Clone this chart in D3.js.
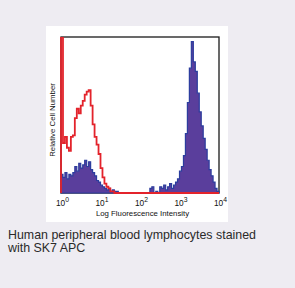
<!DOCTYPE html>
<html>
<head>
<meta charset="utf-8">
<script src="https://cdn.jsdelivr.net/npm/d3@7"></script>
<style>
body{margin:0;background:#eeecf2;}
svg{display:block;}
</style>
</head>
<body>
<script>
// histogram channels, log10 bin width 0.05 starting at 10^0
var binStep = 0.05;
var decades = [1, 10, 100, 1000, 10000];
var tickExp = ["0", "1", "2", "3", "4"];
var isotype = [100, 32, 36, 29, 27, 36, 37, 48, 54, 51, 56, 59, 63, 65, 66, 56,
	44, 36, 31, 25, 16, 10, 6, 4, 3, 1, 1, 0, 0, 0, 0, 0,
	0, 0, 0, 0, 0, 0, 0, 0, 0, 0, 0, 0, 0, 0, 0, 0,
	0, 0, 0, 0, 0, 0, 0, 0, 0, 0, 0, 0, 0, 0, 0, 0,
	0, 0, 0, 0, 0, 0, 0, 0, 0, 0, 0, 0, 0, 0, 0, 0];
var stained = [12, 10, 13, 9, 12, 11, 13, 17, 14, 19, 16, 18, 21, 17, 20, 15,
	13, 11, 8, 7, 5, 4, 3, 2, 3, 1, 2, 1, 1, 0, 0, 0,
	0, 0, 0, 0, 0, 0, 0, 0, 0, 0, 0, 0, 0, 3, 4, 0,
	1, 0, 4, 3, 5, 2, 4, 6, 3, 5, 7, 9, 14, 17, 24, 38,
	58, 80, 97, 84, 78, 64, 52, 43, 35, 28, 21, 15, 11, 7, 3, 1];
var xTitle = "Log Fluorescence Intensity";
var yTitle = "Relative Cell Number";
var caption = ["Human peripheral blood lymphocytes stained", "with SK7 APC"];

var toPoints = function(arr){
	var pts = [{e: 0, v: 0}];
	for (var i = 0; i < arr.length; i++){
		pts.push({e: i * binStep, v: arr[i]});
	}
	pts.push({e: arr.length * binStep, v: 0});
	return pts;
};

var svg = d3.select("body").append("svg").attr("width", 295).attr("height", 288);

svg.append("rect").attr("x", 46).attr("y", 26).attr("width", 182).attr("height", 196).attr("fill", "#ffffff");

var pLeft = 61, pRight = 219, pTop = 37, pBottom = 193;
var x = d3.scaleLog().domain([1, 10000]).range([pLeft, pRight]);
var y = d3.scaleLinear().domain([0, 100]).range([pBottom, pTop]);

svg.append("clipPath").attr("id", "plotclip").append("rect")
	.attr("x", pLeft - 1).attr("y", pTop).attr("width", pRight - pLeft + 2).attr("height", pBottom - pTop + 1);

svg.append("rect").attr("x", pLeft).attr("y", pTop).attr("width", pRight - pLeft).attr("height", pBottom - pTop)
	.attr("fill", "none").attr("stroke", "#1a1a1a").attr("stroke-width", 1.3);

var g = svg.append("g").attr("clip-path", "url(#plotclip)");

var area = d3.area().curve(d3.curveStepAfter)
	.x(function(d){ return x(Math.pow(10, d.e)); })
	.y0(pBottom).y1(function(d){ return y(d.v); });
var line = d3.line().curve(d3.curveStepAfter)
	.x(function(d){ return x(Math.pow(10, d.e)); })
	.y(function(d){ return y(d.v); });

g.append("path").datum(toPoints(stained)).attr("d", area)
	.attr("fill", "#5a3e9c").attr("stroke", "#2c3d9e").attr("stroke-width", 1.2);
g.append("path").datum(toPoints(isotype)).attr("d", line)
	.attr("fill", "none").attr("stroke", "#e3232b").attr("stroke-width", 1.8);

// x axis labels
var ax = svg.append("g").attr("transform", "translate(0," + pBottom + ")")
	.call(d3.axisBottom(x).tickValues(decades).tickSize(0).tickPadding(7).tickFormat(function(){ return ""; }));
ax.select(".domain").remove();
ax.selectAll(".tick text").each(function(d, i){
	var t = d3.select(this).attr("font-family", "Liberation Sans, Arial, sans-serif").attr("font-size", 8.3)
		.attr("fill", "#111").attr("dx", 1);
	t.append("tspan").text("10");
	t.append("tspan").attr("dy", -4).attr("font-size", 6.8).text(tickExp[i]);
});

svg.append("text").attr("x", 142.5).attr("y", 216).attr("text-anchor", "middle")
	.attr("font-family", "Liberation Sans, Arial, sans-serif").attr("font-size", 7.8).attr("fill", "#111")
	.text(xTitle);
svg.append("text").attr("transform", "translate(55,120) rotate(-90)").attr("text-anchor", "middle")
	.attr("font-family", "Liberation Sans, Arial, sans-serif").attr("font-size", 7.8).attr("fill", "#111")
	.text(yTitle);

svg.selectAll(".caption").data(caption).enter().append("text").attr("class", "caption")
	.attr("x", 8).attr("y", function(d, i){ return 239 + i * 12.5; })
	.attr("font-family", "Liberation Sans, Arial, sans-serif").attr("font-size", 12.4).attr("fill", "#2a2a2a")
	.text(function(d){ return d; });
</script>
</body>
</html>
